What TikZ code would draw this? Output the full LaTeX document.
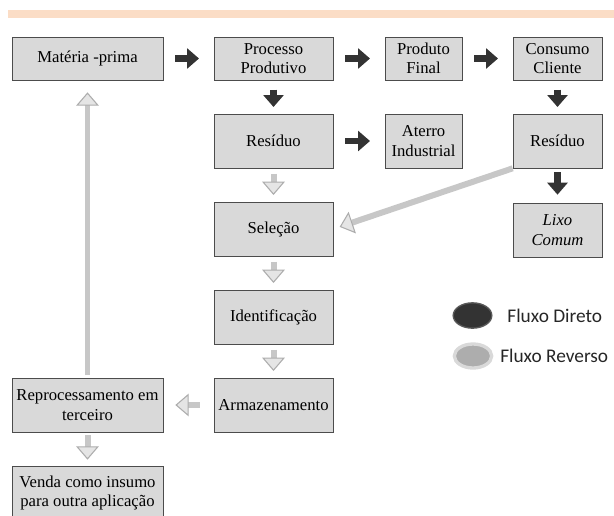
\documentclass[tikz,border=0pt]{standalone}
\usepackage{fontspec}
\setmainfont{Liberation Serif}
\newfontfamily\caixafont{Liberation Serif}
\newfontfamily\legfont{Carlito}
\usetikzlibrary{arrows.meta}
\usetikzlibrary{shapes.geometric}
\usetikzlibrary{shadows}
\usetikzlibrary{positioning}
\definecolor{faixa}{RGB}{251,221,198}

\begin{document}
\begin{tikzpicture}
[x=0.75pt,y=-0.75pt,%
  every node/.style={inner sep=0pt,align=center},%
  caixa/.style={shape=rectangle,draw=black!70,line width=0.5pt,fill=black!15,%
    drop shadow={shadow xshift=0.9pt,shadow yshift=-0.9pt,fill=black,opacity=1},%
    font=\caixafont\fontsize{12.5}{14.5}\selectfont,minimum height=40.5pt},%
  larga/.style={caixa,minimum width=113.25pt},%
  media/.style={caixa,minimum width=89.25pt},%
  estreita/.style={caixa,minimum width=57.75pt},%
  cliente/.style={caixa,minimum width=66.75pt},%
  legenda/.style={font=\legfont\fontsize{14.5}{16}\selectfont,text=black!85},%
  direto/.style={draw=black!80,line width=5pt,-{Triangle[length=9pt,width=15pt]}},%
  reverso/.style={draw=black!22,line width=4.5pt,%
    -{Triangle[length=10pt,width=17pt,line width=0.8pt,color=black!32,fill=black!10]}}]
\useasboundingbox (0,0) rectangle (614,515);
\fill[faixa] (8,10) rectangle (614,18);
% fluxo direto
\node[larga,minimum height=32.25pt] (mp) at (87.5,58.5) {Matéria -prima};
\node[media,minimum height=32.25pt] (pp) at (273.5,58.5) {Processo\\Produtivo};
\node[estreita,minimum height=32.25pt] (pf) at (423.5,58.5) {Produto\\Final};
\node[cliente,minimum height=32.25pt] (cc) at (557.5,58.5) {Consumo\\Cliente};
\node[media] (res1) at (273.5,141) {Resíduo};
\node[estreita] (ai) at (423.5,141) {Aterro\\Industrial};
\node[cliente] (res2) at (557.5,141) {Resíduo};
\node[cliente] (lc) at (557.5,230) {\itshape Lixo\\\itshape Comum};
% fluxo reverso
\node[media] (sel) at (273.5,229) {Seleção};
\node[media] (ide) at (273.5,317) {Identificação};
\node[media] (arm) at (273.5,405) {Armazenamento};
\node[larga] (rp) at (87.5,405) {Reprocessamento em\\terceiro};
\node[larga] (vd) at (87.5,493) {Venda como insumo\\para outra aplicação};
% setas
\draw[direto,shorten <=9pt,shorten >=11pt] (mp.east) -- (pp.west);
\draw[direto,shorten <=9pt,shorten >=11pt] (pp.east) -- (pf.west);
\draw[direto,shorten <=9pt,shorten >=11pt] (pf.east) -- (cc.west);
\draw[direto,shorten <=7pt,shorten >=5pt] (pp.south) -- (res1.north);
\draw[direto,shorten <=7pt,shorten >=5pt] (cc.south) -- (res2.north);
\draw[direto,shorten <=9pt,shorten >=11pt] (res1.east) -- (ai.west);
\draw[direto,shorten <=3pt,shorten >=6pt] (res2.south) -- (lc.north);
\draw[reverso,shorten <=4pt,shorten >=5pt] (res1.south) -- (sel.north);
\draw[reverso,shorten <=4pt,shorten >=5pt] (sel.south) -- (ide.north);
\draw[reverso,shorten <=4pt,shorten >=5pt] (ide.south) -- (arm.north);
\draw[reverso,shorten <=10.5pt,shorten >=9pt] (arm.west) -- (rp.east);
\draw[reverso,shorten <=2pt,shorten >=4.5pt] (rp.south) -- (vd.north);
\draw[reverso,line width=3.5pt,shorten <=2pt,shorten >=9pt] (rp.north) -- (mp.south);
\draw[reverso,line width=4.5pt,shorten >=5pt] (res2.south west) -- (sel.east);
% legenda
\node[ellipse,minimum width=29pt,minimum height=19pt,fill=black!80,draw=black!65,line width=1pt] (dirleg) at (472.5,315.5) {};
\node[ellipse,minimum width=28pt,minimum height=18pt,fill=black!32,draw=black!15,line width=2.5pt] (revleg) at (473,356) {};
\node[legenda,right=11pt of dirleg] (dirtxt) {Fluxo Direto};
\node[legenda,right=5pt of revleg] (revtxt) {Fluxo Reverso};
\end{tikzpicture}
\end{document}
